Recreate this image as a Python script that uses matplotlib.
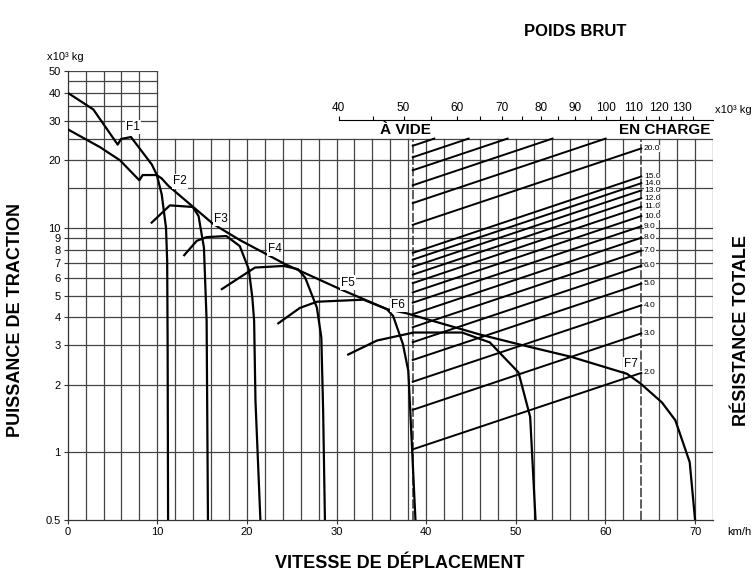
import numpy as np
import matplotlib
matplotlib.use('Agg')
import matplotlib.pyplot as plt

plt.rcParams['font.family'] = ['Liberation Sans', 'DejaVu Sans']

# courbe enveloppe (km/h, x10^3 kg)
env_v = [0, 3.6, 5.84, 7.99, 8.37, 9.93, 10.49, 11.23, 16.25, 19.23, 24.25, 30.39,
         35.6, 37.76, 46.0, 50.5, 56.1, 62.4, 63.9, 66.3, 67.8, 69.4, 70.0]
env_f = [27.5, 22.9, 20.0, 16.3, 17.2, 17.2, 16.6, 15.4, 10.4, 8.82, 6.9, 5.34,
         4.35, 4.17, 3.35, 3.02, 2.67, 2.24, 2.03, 1.67, 1.39, 0.905, 0.5]

# courbes par rapport
f1_v = [0, 2.86, 5.58, 5.95, 7.06, 9.37, 9.93, 10.49, 10.97, 11.1, 11.15, 11.2]
f1_f = [40, 33.7, 23.5, 24.9, 25.4, 19.2, 17.3, 14.1, 10.0, 7.1, 3.0, 0.5]
f2_v = [9.37, 11.4, 13.95, 14.6, 15.2, 15.5, 15.65]
f2_f = [10.56, 12.6, 12.4, 11.3, 8.17, 3.86, 0.5]
f3_v = [13.0, 14.4, 15.5, 17.7, 19.2, 20.2, 20.6, 20.8, 20.95, 21.5]
f3_f = [7.56, 8.76, 9.1, 9.2, 8.3, 6.55, 4.9, 3.86, 1.7, 0.5]
f4_v = [17.2, 20.9, 24.1, 25.7, 26.5, 27.8, 28.3, 28.5, 28.7]
f4_f = [5.34, 6.66, 6.77, 6.55, 6.0, 4.42, 3.25, 1.54, 0.5]
f5_v = [23.5, 25.9, 27.8, 33.0, 35.6, 36.3, 37.4, 38.0, 38.2, 38.8]
f5_f = [3.76, 4.4, 4.69, 4.79, 4.35, 4.06, 3.04, 2.31, 1.6, 0.5]
f6_v = [31.3, 34.5, 38.6, 44.0, 47.1, 50.3, 51.6, 52.2]
f6_f = [2.73, 3.15, 3.42, 3.42, 3.09, 2.27, 1.44, 0.5]
gears = [(f1_v, f1_f), (f2_v, f2_f), (f3_v, f3_f), (f4_v, f4_f), (f5_v, f5_f), (f6_v, f6_f)]

gear_names = ['F1', 'F2', 'F3', 'F4', 'F5', 'F6', 'F7']
gear_lab_v = [7.3, 12.5, 17.1, 23.1, 31.3, 36.9, 62.8]
gear_lab_f = [28.2, 16.1, 11.0, 8.04, 5.71, 4.55, 2.48]

# résistance totale (%)
res_pct = [2, 3, 4, 5, 6, 7, 8, 9, 10, 11, 12, 13, 14, 15, 20, 25, 30, 35, 40, 45]
res_labeled = [2, 3, 4, 5, 6, 7, 8, 9, 10, 11, 12, 13, 14, 15, 20]

# poids brut (x10^3 kg)
w_empty, w_loaded = 51.6, 113.0
v_empty, v_loaded = 38.5, 64.0
w_major = [40, 50, 60, 70, 80, 90, 100, 110, 120, 130]
w_minor = [45, 55, 65, 75, 85, 95, 105, 115, 125, 135]

y_ticks = [0.5, 1, 2, 3, 4, 5, 6, 7, 8, 9, 10, 20, 30, 40, 50]
y_labels = ['0.5', '1', '2', '3', '4', '5', '6', '7', '8', '9', '10', '20', '30', '40', '50']
x_ticks = [0, 10, 20, 30, 40, 50, 60, 70]
h_low = [1, 2, 3, 4, 5, 6, 7, 8, 9, 10, 15, 20, 25]
h_high = [30, 35, 40, 45, 50]


def v_to_w(v):
    v = np.asarray(v, dtype=float)
    return w_empty * (w_loaded / w_empty) ** ((v - v_empty) / (v_loaded - v_empty))


def w_to_v(w):
    w = np.clip(np.asarray(w, dtype=float), 1e-6, None)
    return v_empty + (v_loaded - v_empty) * np.log(w / w_empty) / np.log(w_loaded / w_empty)


W, H = 753, 575
fig = plt.figure(figsize=(W / 100, H / 100), dpi=100)
ax = fig.add_axes([67.7 / W, 55 / H, 645.3 / W, 449 / H])
ax.set_yscale('log')
ax.set_xlim(0, 72)
ax.set_ylim(0.5, 50)

gc = '#444444'
# grille
for x in range(2, 73, 2):
    if x == 64:
        continue
    top = 50 if x <= 10 else 25
    ax.plot([x, x], [0.5, top], color=gc, lw=0.9, zorder=1)
for y in h_low:
    ax.plot([0, 72], [y, y], color=gc, lw=0.9, zorder=1)
for y in h_high:
    ax.plot([0, 10], [y, y], color=gc, lw=0.9, zorder=1)

# à vide / en charge
for v in (v_empty, v_loaded):
    ax.plot([v, v], [0.5, 25], color='#333333', lw=1.1, dashes=(6, 1.5), zorder=2)

# droites de résistance
for r in res_pct:
    y0 = r / 100 * w_empty
    y1 = r / 100 * w_loaded
    v1 = v_loaded
    if y1 > 25:
        v1 = float(w_to_v(25 / (r / 100)))
        y1 = 25
    ax.plot([v_empty, v1], [y0, y1], color='black', lw=1.4, zorder=3)

for r in res_labeled:
    ax.text(v_loaded + 0.3, r / 100 * w_loaded, f'{r:.1f}', fontsize=6, ha='left', va='center',
            zorder=5, bbox=dict(facecolor='white', edgecolor='none', pad=0))

# courbes
for gv, gf in gears:
    ax.plot(gv, gf, color='black', lw=1.6, zorder=4)
ax.plot(env_v, env_f, color='black', lw=1.6, zorder=4)

for name, gv, gf in zip(gear_names, gear_lab_v, gear_lab_f):
    ax.text(gv, gf, name, fontsize=8.5, ha='center', va='center', zorder=6,
            bbox=dict(facecolor='white', edgecolor='none', pad=0.8))

# axes
for s in ('top', 'right'):
    ax.spines[s].set_visible(False)
for s in ('left', 'bottom'):
    ax.spines[s].set_color('#333333')
    ax.spines[s].set_linewidth(0.9)
ax.set_yticks(y_ticks, y_labels)
ax.yaxis.set_minor_locator(matplotlib.ticker.NullLocator())
ax.set_xticks(x_ticks, [str(x) for x in x_ticks])
ax.tick_params(axis='both', length=3, width=0.8, labelsize=8, pad=2, color='#333333')

# échelle poids brut
sec = ax.secondary_xaxis(0.891, functions=(v_to_w, w_to_v))
sec.set_xticks(w_major, [str(w) for w in w_major])
sec.set_xticks(w_minor, minor=True)
sec.tick_params(which='both', length=3, width=0.8, labelsize=8.5, pad=1)
sec.spines['top'].set_bounds(40, float(v_to_w(72)))

fig.text(575 / W, 1 - 32 / H, 'POIDS BRUT', ha='center', va='center', fontsize=12, fontweight='bold')
fig.text(400 / W, 1 - 563 / H, 'VITESSE DE DÉPLACEMENT', ha='center', va='center', fontsize=13, fontweight='bold')
fig.text(16 / W, 1 - 320 / H, 'PUISSANCE DE TRACTION', ha='center', va='center', rotation=90,
         fontsize=13, fontweight='bold')
fig.text(742 / W, 1 - 330 / H, 'RÉSISTANCE TOTALE', ha='center', va='center', rotation=90,
         fontsize=13, fontweight='bold')
fig.text(405 / W, 1 - 130 / H, 'À VIDE', ha='center', va='center', fontsize=11, fontweight='bold')
fig.text(710 / W, 1 - 130 / H, 'EN CHARGE', ha='right', va='center', fontsize=11, fontweight='bold')
fig.text(47 / W, 1 - 57 / H, 'x10³ kg', ha='left', va='center', fontsize=8)
fig.text(715 / W, 1 - 110 / H, 'x10³ kg', ha='left', va='center', fontsize=8)
fig.text(727 / W, 1 - 532 / H, 'km/h', ha='left', va='center', fontsize=8)

fig.savefig('out.png', dpi=100)
